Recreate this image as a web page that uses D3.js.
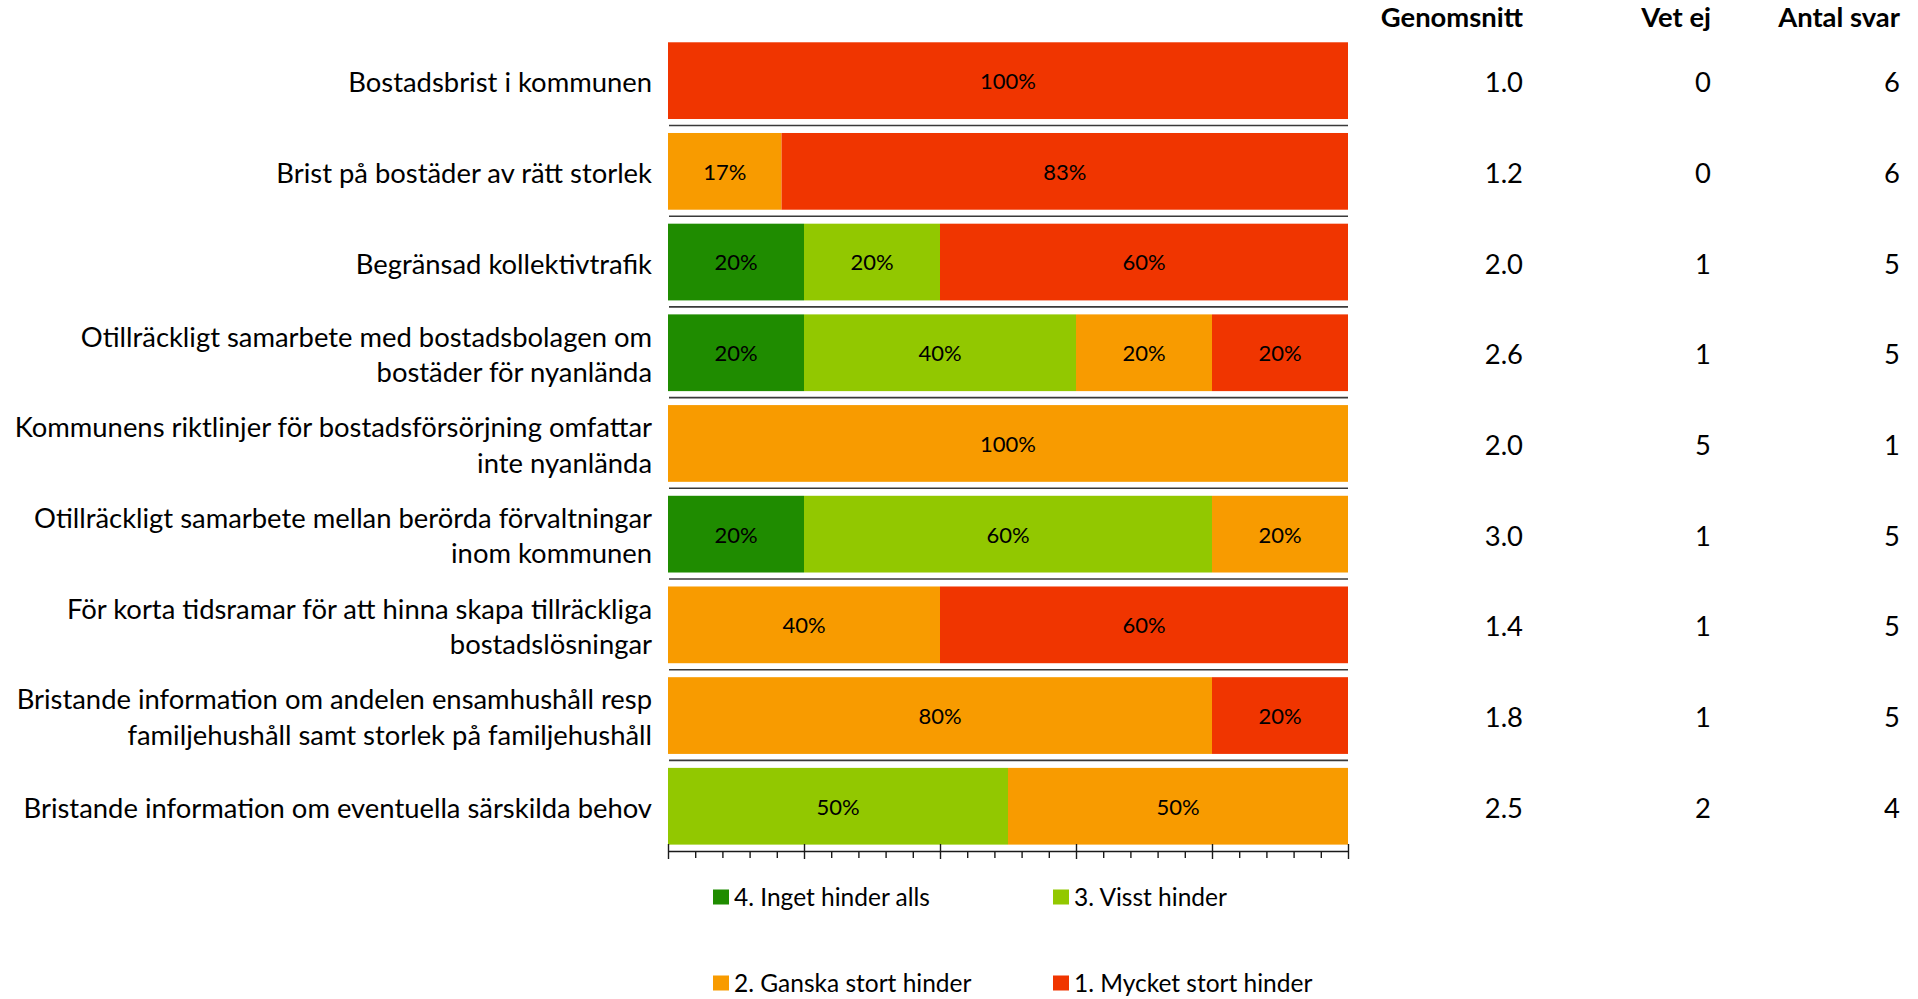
<!DOCTYPE html>
<html>
<head>
<meta charset="utf-8">
<script src="https://cdn.jsdelivr.net/npm/d3@7"></script>
<style>
body { margin: 0; background: #fff; }
text { font-family: Lato, "Open Sans", sans-serif; fill: #000; }
</style>
</head>
<body>
<div id="chart"></div>
<script>
var categories = [
    "Bostadsbrist i kommunen",
    "Brist på bostäder av rätt storlek",
    "Begränsad kollektivtrafik",
    "Otillräckligt samarbete med bostadsbolagen om\nbostäder för nyanlända",
    "Kommunens riktlinjer för bostadsförsörjning omfattar\ninte nyanlända",
    "Otillräckligt samarbete mellan berörda förvaltningar\ninom kommunen",
    "För korta tidsramar för att hinna skapa tillräckliga\nbostadslösningar",
    "Bristande information om andelen ensamhushåll resp\nfamiljehushåll samt storlek på familjehushåll",
    "Bristande information om eventuella särskilda behov"
];
var series = ["4. Inget hinder alls", "3. Visst hinder", "2. Ganska stort hinder", "1. Mycket stort hinder"];
var colors = ["#1F8C00", "#92C800", "#F89B00", "#F03500"];

var inget  = [0,   0,    20, 20, 0,   20, 0,  0,  0];
var visst  = [0,   0,    20, 40, 0,   60, 0,  0,  50];
var ganska = [0,   16.7, 0,  20, 100, 20, 40, 80, 50];
var mycket = [100, 83.3, 60, 20, 0,   0,  60, 20, 0];

var columns = ["Genomsnitt", "Vet ej", "Antal svar"];
var genomsnitt = ["1.0", "1.2", "2.0", "2.6", "2.0", "3.0", "1.4", "1.8", "2.5"];
var vetEj = [0, 0, 1, 1, 5, 1, 1, 1, 2];
var antalSvar = [6, 6, 5, 5, 1, 5, 5, 5, 4];

var xTicks = [0, 20, 40, 60, 80, 100];

var width = 1918, height = 999;
var barLeft = 668, barRight = 1348;
var labelRight = 652;
var columnX = [1523, 1711, 1900];

var table = categories.map((c, i) => {
    var row = {cat: c};
    row[series[0]] = inget[i];
    row[series[1]] = visst[i];
    row[series[2]] = ganska[i];
    row[series[3]] = mycket[i];
    return row;
});
var columnValues = [genomsnitt, vetEj, antalSvar];

var svg = d3.select("#chart").append("svg")
    .attr("width", width)
    .attr("height", height);

var x = d3.scaleLinear()
    .domain([0, 100])
    .range([barLeft, barRight]);
var y = d3.scaleBand()
    .domain(categories)
    .range([35.3, 851.6])
    .paddingInner(0.154)
    .paddingOuter(0.077);
var color = d3.scaleOrdinal().domain(series).range(colors);

var stacked = d3.stack().keys(series)(table);

// separators between rows
svg.selectAll(".sep")
    .data(categories.slice(0, -1))
    .enter().append("line")
    .attr("class", "sep")
    .attr("x1", barLeft + 1)
    .attr("x2", barRight)
    .attr("y1", d => { return y(d) + y.bandwidth() + 6.5; })
    .attr("y2", d => { return y(d) + y.bandwidth() + 6.5; })
    .style("stroke", "#3a3a3a")
    .style("stroke-width", 1.6);

var layer = svg.selectAll(".layer")
    .data(stacked)
    .enter().append("g")
    .attr("class", "layer")
    .style("fill", d => { return color(d.key); });

layer.selectAll("rect")
    .data(d => { return d; })
    .enter().append("rect")
    .attr("x", d => { return x(d[0]); })
    .attr("width", d => { return x(d[1]) - x(d[0]); })
    .attr("y", d => { return y(d.data.cat); })
    .attr("height", y.bandwidth());

layer.selectAll(".pct")
    .data(d => { return d.filter(s => { return s[1] - s[0] > 0; }); })
    .enter().append("text")
    .attr("class", "pct")
    .attr("x", d => { return (x(d[0]) + x(d[1])) / 2; })
    .attr("y", d => { return y(d.data.cat) + y.bandwidth() / 2; })
    .attr("dy", "0.38em")
    .style("text-anchor", "middle")
    .style("font-size", "22px")
    .style("fill", "#000")
    .text(d => { return Math.round(d[1] - d[0]) + "%"; });

// category labels
var labels = svg.selectAll(".cat")
    .data(categories)
    .enter().append("text")
    .attr("class", "cat")
    .style("text-anchor", "end")
    .style("font-size", "27.4px");
labels.each(function(d) {
    var lines = d.split("\n");
    var lh = 35.5;
    var cy = y(d) + y.bandwidth() / 2;
    d3.select(this).selectAll("tspan")
        .data(lines)
        .enter().append("tspan")
        .attr("x", labelRight)
        .attr("y", (l, i) => { return cy + (i - (lines.length - 1) / 2) * lh; })
        .attr("dy", "0.42em")
        .text(l => { return l; });
});

// value columns
svg.selectAll(".colhead")
    .data(columns)
    .enter().append("text")
    .attr("class", "colhead")
    .attr("x", (d, i) => { return columnX[i]; })
    .attr("y", 27)
    .style("text-anchor", "end")
    .style("font-weight", "bold")
    .style("font-size", "27.4px")
    .text(d => { return d; });

columnValues.forEach((vals, j) => {
    svg.selectAll(".col" + j)
        .data(vals)
        .enter().append("text")
        .attr("class", "col" + j)
        .attr("x", columnX[j])
        .attr("y", (d, i) => { return y(categories[i]) + y.bandwidth() / 2; })
        .attr("dy", "0.42em")
        .style("text-anchor", "end")
        .style("font-size", "27.4px")
        .text(d => { return d; });
});

// axis with crossing major ticks and outside minor ticks
var axisY = 851;
var minorTicks = d3.range(0, 101, 4).filter(v => { return v % 20 !== 0; });
svg.append("g")
    .attr("class", "minor")
    .attr("transform", "translate(0," + axisY + ")")
    .call(d3.axisBottom(x).tickValues(minorTicks).tickSize(7).tickSizeOuter(0).tickFormat(""))
    .call(g => g.select(".domain").remove());
var axis = svg.append("g")
    .attr("class", "x axis")
    .attr("transform", "translate(0," + axisY + ")")
    .call(d3.axisBottom(x).tickValues(xTicks).tickSize(8).tickSizeOuter(0).tickFormat(""));
axis.selectAll(".tick line").attr("y1", -7);
svg.selectAll(".minor line, .axis line, .axis .domain")
    .style("stroke", "#1a1a1a")
    .style("stroke-width", 1.4);

// legend
var legendPos = [[713, 897], [1053, 897], [713, 983], [1053, 983]];
var legend = svg.selectAll(".legend")
    .data(series)
    .enter().append("g")
    .attr("class", "legend")
    .attr("transform", (d, i) => { return "translate(" + legendPos[i][0] + "," + legendPos[i][1] + ")"; });
legend.append("rect")
    .attr("x", 0)
    .attr("y", -7.5)
    .attr("width", 16)
    .attr("height", 15)
    .style("fill", d => { return color(d); });
legend.append("text")
    .attr("x", 21)
    .attr("y", 0)
    .attr("dy", "0.36em")
    .style("font-size", "24.5px")
    .text(d => { return d; });
</script>
</body>
</html>
